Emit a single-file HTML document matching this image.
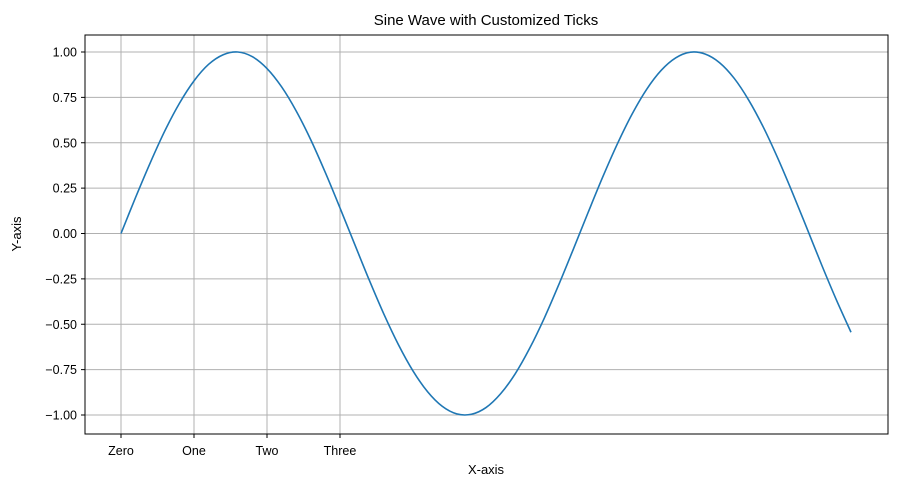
<!DOCTYPE html>
<html><head><meta charset="utf-8"><style>
html,body{margin:0;padding:0;background:#fff;}
svg text{font-family:"Liberation Sans","DejaVu Sans",sans-serif;fill:#000;}
</style></head><body>
<svg id="chart" width="900" height="486" viewBox="0 0 900 486" xmlns="http://www.w3.org/2000/svg">
<rect width="900" height="486" fill="#fff"/>
<text x="486" y="25" font-size="15" text-anchor="middle">Sine Wave with Customized Ticks</text>
<text x="486" y="474" font-size="13" text-anchor="middle">X-axis</text>
<text x="21" y="234" font-size="13" text-anchor="middle" transform="rotate(-90 21 234)">Y-axis</text>
<g id="grid"></g><g id="axes"></g><g id="plot"></g>
</svg>
<script>
const xValues = [0,0.2,0.4,0.6,0.8,1.0,1.2,1.4,1.6,1.8,2.0,2.2,2.4,2.6,2.8,3.0,3.2,3.4,3.6,3.8,4.0,4.2,4.4,4.6,4.8,5.0,5.2,5.4,5.6,5.8,6.0,6.2,6.4,6.6,6.8,7.0,7.2,7.4,7.6,7.8,8.0,8.2,8.4,8.6,8.8,9.0,9.2,9.4,9.6,9.8,10.0];
const yValues = [0,0.199,0.389,0.565,0.717,0.841,0.932,0.985,1.000,0.974,0.909,0.808,0.675,0.516,0.335,0.141,-0.058,-0.256,-0.443,-0.612,-0.757,-0.872,-0.952,-0.994,-0.996,-0.959,-0.883,-0.773,-0.631,-0.465,-0.279,-0.083,0.117,0.312,0.494,0.657,0.794,0.899,0.968,0.999,0.989,0.941,0.855,0.734,0.585,0.412,0.223,0.025,-0.175,-0.366,-0.544];
const xTickValues = [0,1,2,3];
const xTickLabels = ["Zero","One","Two","Three"];
const yTickValues = [-1,-0.75,-0.5,-0.25,0,0.25,0.5,0.75,1];
const yTickLabels = ["\u22121.00","\u22120.75","\u22120.50","\u22120.25","0.00","0.25","0.50","0.75","1.00"];

const L=85,R=888,T=35,B=434;
const xs=v=>121+v*73;
const ys=v=>233.5-v*181.5;
const NS="http://www.w3.org/2000/svg";
function mk(tag,attrs,parent){const e=document.createElementNS(NS,tag);for(const k in attrs)e.setAttribute(k,attrs[k]);parent.appendChild(e);return e;}
const grid=document.getElementById('grid'),axes=document.getElementById('axes'),plot=document.getElementById('plot');

xTickValues.forEach((v,i)=>{
  const g=mk('line',{x1:xs(v),x2:xs(v),y1:T,y2:B,stroke:'#b0b0b0','stroke-width':1},grid);
  
  
  mk('line',{x1:xs(v),x2:xs(v),y1:B,y2:B+4,stroke:'#000','stroke-width':1},axes);
  const t=mk('text',{x:xs(v),y:B+21,'font-size':12.5,'text-anchor':'middle'},axes);
  t.textContent=xTickLabels[i];
  
  
});
yTickValues.forEach((v,i)=>{
  const g=mk('line',{x1:L,x2:R,y1:ys(v),y2:ys(v),stroke:'#b0b0b0','stroke-width':1},grid);
  
  
  mk('line',{x1:L-4,x2:L,y1:ys(v),y2:ys(v),stroke:'#000','stroke-width':1},axes);
  const t=mk('text',{x:L-8,y:ys(v)+4.5,'font-size':12.5,'text-anchor':'end'},axes);
  t.textContent=yTickLabels[i];
  
  
});
const frame=mk('rect',{x:L,y:T,width:R-L,height:B-T,fill:'none',stroke:'#000','stroke-width':1},axes);


const P=xValues.map((x,i)=>[xs(x),ys(yValues[i])]);
let d='M'+P[0][0].toFixed(2)+','+P[0][1].toFixed(2);
for(let i=0;i<P.length-1;i++){
  const p0=P[Math.max(i-1,0)],p1=P[i],p2=P[i+1],p3=P[Math.min(i+2,P.length-1)];
  const c1x=p1[0]+(p2[0]-p0[0])/6,c1y=p1[1]+(p2[1]-p0[1])/6;
  const c2x=p2[0]-(p3[0]-p1[0])/6,c2y=p2[1]-(p3[1]-p1[1])/6;
  d+=' C'+c1x.toFixed(2)+','+c1y.toFixed(2)+' '+c2x.toFixed(2)+','+c2y.toFixed(2)+' '+p2[0].toFixed(2)+','+p2[1].toFixed(2);
}
const line=mk('path',{d:d,fill:'none',stroke:'#1f77b4','stroke-width':1.6,'stroke-linejoin':'round'},plot);


</script>
</body></html>
